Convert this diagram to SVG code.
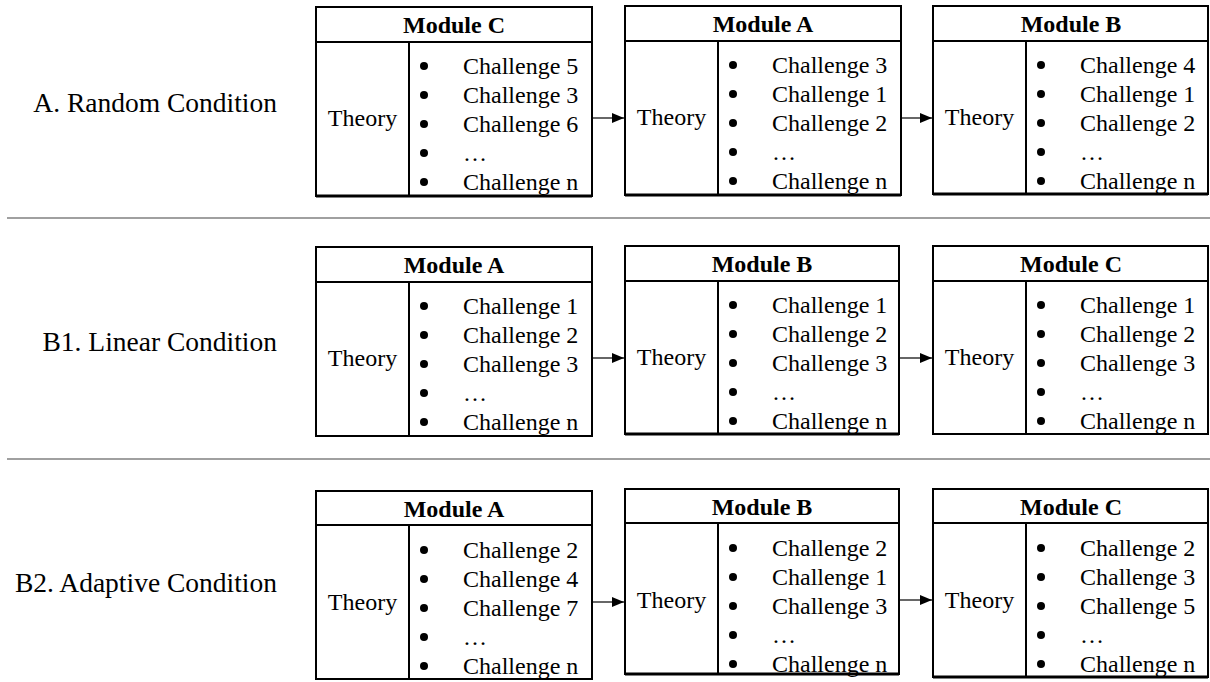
<svg xmlns="http://www.w3.org/2000/svg" width="1210" height="682" viewBox="0 0 1210 682">
<style>
  text { font-family: "Liberation Serif", "Times New Roman", serif; fill: #000; }
  .lbl { font-size: 27.5px; text-anchor: end; }
  .hdr { font-size: 24px; font-weight: bold; text-anchor: middle; }
  .th { font-size: 24px; text-anchor: middle; }
  .ch { font-size: 24px; }
  .box { fill: #fff; stroke: #000; stroke-width: 2; }
  .ln { stroke: #000; stroke-width: 2; fill: none; }
  .bot { stroke: #000; stroke-width: 3; }
  .sep { stroke: #808080; stroke-width: 1.5; }
  .conn { stroke: #000; stroke-width: 1.2; fill: none; marker-end: url(#arr); }
  .dot { fill: #000; }
</style>
<defs>
  <marker id="arr" markerWidth="12" markerHeight="10" refX="12" refY="5" orient="auto" markerUnits="userSpaceOnUse">
    <path d="M0,0 L12,5 L0,10 Z" fill="#000"/>
  </marker>
  <g id="bul">
    <circle class="dot" cx="0" cy="0" r="4"/>
    <circle class="dot" cx="0" cy="29" r="4"/>
    <circle class="dot" cx="0" cy="58" r="4"/>
    <circle class="dot" cx="0" cy="87" r="4"/>
    <circle class="dot" cx="0" cy="116" r="4"/>
  </g>
</defs>
<rect width="1210" height="682" fill="#fff"/>

<g id="separators">
  <line class="sep" x1="7" y1="218" x2="1210" y2="218"/>
  <line class="sep" x1="7" y1="459" x2="1210" y2="459"/>
</g>

<g id="labels">
  <text class="lbl" x="277" y="112">A. Random Condition</text>
  <text class="lbl" x="277" y="351">B1. Linear Condition</text>
  <text class="lbl" x="277" y="592">B2. Adaptive Condition</text>
</g>

<!-- Row 1 -->
<g id="r1-moduleC" transform="translate(316,7)">
  <rect class="box" x="0" y="0" width="276" height="189"/>
  <line class="bot" x1="0" y1="189" x2="276" y2="189"/>
  <line class="ln" x1="0" y1="35" x2="276" y2="35"/>
  <line class="ln" x1="93" y1="35" x2="93" y2="189"/>
  <text class="hdr" x="138" y="26">Module C</text>
  <text class="th" x="46.5" y="119">Theory</text>
  <use href="#bul" x="108" y="59"/>
  <text class="ch" x="147" y="67">Challenge 5</text>
  <text class="ch" x="147" y="96">Challenge 3</text>
  <text class="ch" x="147" y="125">Challenge 6</text>
  <text class="ch" x="147" y="154">…</text>
  <text class="ch" x="147" y="183">Challenge n</text>
</g>
<g id="r1-moduleA" transform="translate(625,6)">
  <rect class="box" x="0" y="0" width="276" height="189"/>
  <line class="bot" x1="0" y1="189" x2="276" y2="189"/>
  <line class="ln" x1="0" y1="35" x2="276" y2="35"/>
  <line class="ln" x1="93" y1="35" x2="93" y2="189"/>
  <text class="hdr" x="138" y="26">Module A</text>
  <text class="th" x="46.5" y="119">Theory</text>
  <use href="#bul" x="108" y="59"/>
  <text class="ch" x="147" y="67">Challenge 3</text>
  <text class="ch" x="147" y="96">Challenge 1</text>
  <text class="ch" x="147" y="125">Challenge 2</text>
  <text class="ch" x="147" y="154">…</text>
  <text class="ch" x="147" y="183">Challenge n</text>
</g>
<g id="r1-moduleB" transform="translate(933,6)">
  <rect class="box" x="0" y="0" width="275" height="188"/>
  <line class="bot" x1="0" y1="188" x2="275" y2="188"/>
  <line class="ln" x1="0" y1="35" x2="275" y2="35"/>
  <line class="ln" x1="93" y1="35" x2="93" y2="188"/>
  <text class="hdr" x="138" y="26">Module B</text>
  <text class="th" x="46.5" y="119">Theory</text>
  <use href="#bul" x="108" y="59"/>
  <text class="ch" x="147" y="67">Challenge 4</text>
  <text class="ch" x="147" y="96">Challenge 1</text>
  <text class="ch" x="147" y="125">Challenge 2</text>
  <text class="ch" x="147" y="154">…</text>
  <text class="ch" x="147" y="183">Challenge n</text>
</g>

<!-- Row 2 -->
<g id="r2-moduleA" transform="translate(316,247)">
  <rect class="box" x="0" y="0" width="276" height="189"/>
  <line class="ln" x1="0" y1="35" x2="276" y2="35"/>
  <line class="ln" x1="93" y1="35" x2="93" y2="189"/>
  <text class="hdr" x="138" y="26">Module A</text>
  <text class="th" x="46.5" y="119">Theory</text>
  <use href="#bul" x="108" y="59"/>
  <text class="ch" x="147" y="67">Challenge 1</text>
  <text class="ch" x="147" y="96">Challenge 2</text>
  <text class="ch" x="147" y="125">Challenge 3</text>
  <text class="ch" x="147" y="154">…</text>
  <text class="ch" x="147" y="183">Challenge n</text>
</g>
<g id="r2-moduleB" transform="translate(625,246)">
  <rect class="box" x="0" y="0" width="274" height="188"/>
  <line class="bot" x1="0" y1="188" x2="274" y2="188"/>
  <line class="ln" x1="0" y1="35" x2="274" y2="35"/>
  <line class="ln" x1="93" y1="35" x2="93" y2="188"/>
  <text class="hdr" x="137" y="26">Module B</text>
  <text class="th" x="46.5" y="119">Theory</text>
  <use href="#bul" x="108" y="59"/>
  <text class="ch" x="147" y="67">Challenge 1</text>
  <text class="ch" x="147" y="96">Challenge 2</text>
  <text class="ch" x="147" y="125">Challenge 3</text>
  <text class="ch" x="147" y="154">…</text>
  <text class="ch" x="147" y="183">Challenge n</text>
</g>
<g id="r2-moduleC" transform="translate(933,246)">
  <rect class="box" x="0" y="0" width="275" height="188"/>
  <line class="ln" x1="0" y1="35" x2="275" y2="35"/>
  <line class="ln" x1="93" y1="35" x2="93" y2="188"/>
  <text class="hdr" x="138" y="26">Module C</text>
  <text class="th" x="46.5" y="119">Theory</text>
  <use href="#bul" x="108" y="59"/>
  <text class="ch" x="147" y="67">Challenge 1</text>
  <text class="ch" x="147" y="96">Challenge 2</text>
  <text class="ch" x="147" y="125">Challenge 3</text>
  <text class="ch" x="147" y="154">…</text>
  <text class="ch" x="147" y="183">Challenge n</text>
</g>

<!-- Row 3 -->
<g id="r3-moduleA" transform="translate(316,491)">
  <rect class="box" x="0" y="0" width="276" height="188"/>
  <line class="ln" x1="0" y1="34" x2="276" y2="34"/>
  <line class="ln" x1="93" y1="34" x2="93" y2="188"/>
  <text class="hdr" x="138" y="26">Module A</text>
  <text class="th" x="46.5" y="119">Theory</text>
  <use href="#bul" x="108" y="59"/>
  <text class="ch" x="147" y="67">Challenge 2</text>
  <text class="ch" x="147" y="96">Challenge 4</text>
  <text class="ch" x="147" y="125">Challenge 7</text>
  <text class="ch" x="147" y="154">…</text>
  <text class="ch" x="147" y="183">Challenge n</text>
</g>
<g id="r3-moduleB" transform="translate(625,489)">
  <rect class="box" x="0" y="0" width="274" height="185"/>
  <line class="bot" x1="0" y1="185" x2="274" y2="185"/>
  <line class="ln" x1="0" y1="34" x2="274" y2="34"/>
  <line class="ln" x1="93" y1="34" x2="93" y2="185"/>
  <text class="hdr" x="137" y="26">Module B</text>
  <text class="th" x="46.5" y="119">Theory</text>
  <use href="#bul" x="108" y="59"/>
  <text class="ch" x="147" y="67">Challenge 2</text>
  <text class="ch" x="147" y="96">Challenge 1</text>
  <text class="ch" x="147" y="125">Challenge 3</text>
  <text class="ch" x="147" y="154">…</text>
  <text class="ch" x="147" y="183">Challenge n</text>
</g>
<g id="r3-moduleC" transform="translate(933,489)">
  <rect class="box" x="0" y="0" width="275" height="188"/>
  <line class="bot" x1="0" y1="188" x2="275" y2="188"/>
  <line class="ln" x1="0" y1="34" x2="275" y2="34"/>
  <line class="ln" x1="93" y1="34" x2="93" y2="188"/>
  <text class="hdr" x="138" y="26">Module C</text>
  <text class="th" x="46.5" y="119">Theory</text>
  <use href="#bul" x="108" y="59"/>
  <text class="ch" x="147" y="67">Challenge 2</text>
  <text class="ch" x="147" y="96">Challenge 3</text>
  <text class="ch" x="147" y="125">Challenge 5</text>
  <text class="ch" x="147" y="154">…</text>
  <text class="ch" x="147" y="183">Challenge n</text>
</g>

<g id="connectors">
  <line class="conn" x1="593" y1="118" x2="624" y2="118"/>
  <line class="conn" x1="902" y1="118" x2="932" y2="118"/>
  <line class="conn" x1="593" y1="358" x2="624" y2="358"/>
  <line class="conn" x1="900" y1="358" x2="932" y2="358"/>
  <line class="conn" x1="593" y1="602" x2="624" y2="602"/>
  <line class="conn" x1="900" y1="600" x2="932" y2="600"/>
</g>
</svg>
